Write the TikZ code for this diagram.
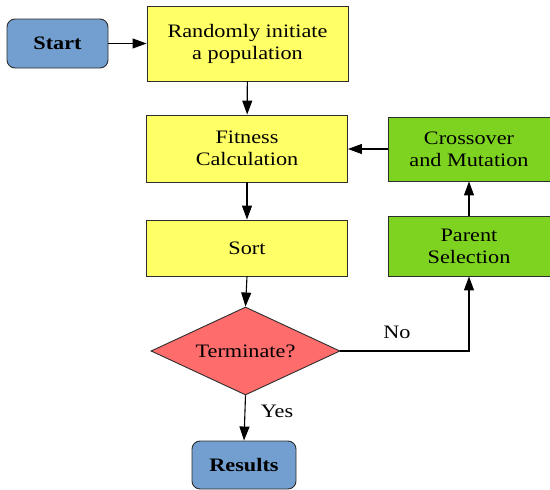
\documentclass[tikz,border=0pt]{standalone}
\usepackage{fontspec}
\setmainfont[FakeStretch=1.17]{Liberation Serif}
\usetikzlibrary{arrows.meta,positioning,shapes.geometric}
\definecolor{TermBlue}{RGB}{114,159,207}
\definecolor{StepYellow}{RGB}{255,255,102}
\definecolor{LoopGreen}{RGB}{126,211,33}
\definecolor{TestRed}{RGB}{255,108,108}
\definecolor{EdgeGray}{RGB}{45,45,45}

\begin{document}
\begin{tikzpicture}[x=1pt, y=-1pt,
    font=\fontsize{19}{22}\selectfont,
    box/.style={draw=EdgeGray, line width=0.9pt, align=center, inner sep=2pt},
    terminal/.style={box, rounded corners=8pt, fill=TermBlue, font=\fontsize{19}{22}\selectfont\bfseries},
    stepbox/.style={box, fill=StepYellow, minimum width=201pt},
    loopbox/.style={box, fill=LoopGreen, minimum width=162pt},
    test/.style={box, diamond, fill=TestRed, aspect=2.15, inner sep=0pt, minimum width=189pt, minimum height=88pt},
    flow/.style={-{Triangle[length=14pt,width=10pt]}, line width=1.1pt}]
        \useasboundingbox (0,0) rectangle (550,490);
        % left column
        \node[terminal, minimum width=101pt, minimum height=49pt] (start) at (57.5,43.5) {Start};
        \node[stepbox, minimum height=75pt] (init) at (247.5,43.5) {Randomly initiate\\a population};
        \node[stepbox, minimum height=67pt] (fit) at (247,148.5) {Fitness\\Calculation};
        \node[stepbox, minimum height=56pt] (sort) at (247,248) {Sort};
        \node[test] (term) at (245.5,351) {Terminate?};
        \node[terminal, minimum width=104pt, minimum height=48pt] (res) at (244,465) {Results};
        % right column (loop)
        \node[loopbox, minimum height=64pt] (cross) at (469,149) {Crossover\\and Mutation};
        \node[loopbox, minimum height=60pt] (parent) at (469,246) {Parent\\Selection};

        \draw[flow] (start) -- (init);
        \draw[flow] (init) -- (fit);
        \draw[flow] (fit) -- (sort);
        \draw[flow] (sort.south) -- (term.north);
        \draw[flow] (term.south) -- node[pos=0.35, right=12pt] {Yes} (res.north);
        \draw[flow] (term.east) -| node[pos=0.22, above=8pt] {No} (parent.south);
        \draw[flow] (parent) -- (cross);
        \draw[flow] (cross) -- (fit.east |- cross.west);
\end{tikzpicture}
\end{document}
